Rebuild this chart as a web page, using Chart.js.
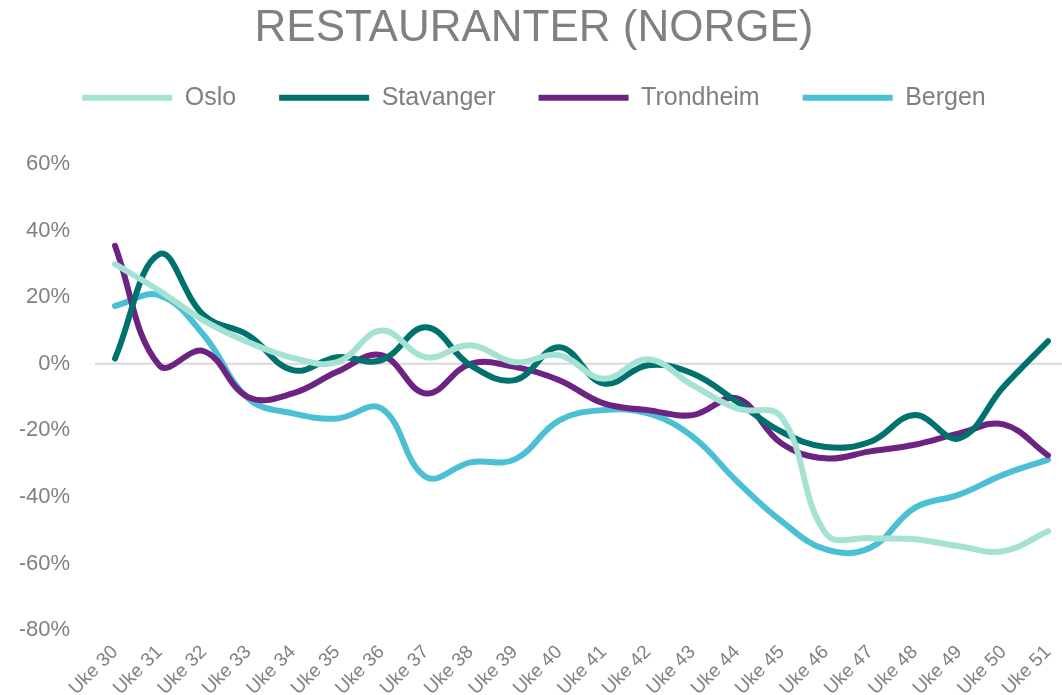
<!DOCTYPE html>
<html>
<head>
<meta charset="utf-8">
<script src="https://cdn.jsdelivr.net/npm/chart.js@4"></script>
<style>
  body { margin: 0; background: #fff; }
  #wrap { width: 1062px; height: 695px; position: relative; }
</style>
</head>
<body>
<div id="wrap"><canvas id="restChart"></canvas></div>
<script>
// weeks and weekly change per city
var weeks = ['Uke 30', 'Uke 31', 'Uke 32', 'Uke 33', 'Uke 34', 'Uke 35', 'Uke 36', 'Uke 37', 'Uke 38', 'Uke 39', 'Uke 40',
             'Uke 41', 'Uke 42', 'Uke 43', 'Uke 44', 'Uke 45', 'Uke 46', 'Uke 47', 'Uke 48', 'Uke 49', 'Uke 50', 'Uke 51'];
var oslo      = [30, 22, 13, 6.5, 1.8, 0.5, 10, 2, 5.6, 0.5, 2.6, -4.5, 1.4, -6.4, -13.4, -16, -51, -52.4, -52.7, -54.8, -56.3, -50.3];
var stavanger = [1.6, 33, 14.6, 8.6, -1.9, 2, 1.1, 11, -0.4, -4.9, 5, -5.9, -0.4, -2.9, -11.4, -20.4, -25, -23.4, -15.4, -22.4, -6.9, 6.8];
var trondheim = [35.5, -0.5, 3.8, -10, -8.9, -2.4, 2.6, -8.9, 0, -0.9, -4.9, -11.9, -13.9, -15.4, -10.4, -23.9, -28.4, -26.3, -24.3, -20.9, -18.2, -27.5];
var bergen    = [17.4, 20.6, 8.6, -10.4, -14.9, -16.4, -13.4, -34, -29.6, -28.7, -17, -13.9, -14.9, -21.9, -35.3, -47.3, -55.8, -55.3, -43.3, -39.3, -33.3, -28.8];
var yTicks = [-80, -60, -40, -20, 0, 20, 40, 60];

var grey = '#808080';
Chart.defaults.font.family = '"Liberation Sans", Arial, sans-serif';
Chart.defaults.color = grey;

// light line at 0%, running a bit past the plot on both sides
var zeroLine = {
    id: 'zeroLine',
    beforeDatasetsDraw: function(chart) {
        var ctx = chart.ctx;
        var y = chart.scales.y.getPixelForValue(0);
        ctx.save();
        ctx.strokeStyle = '#d9d9d9';
        ctx.lineWidth = 2;
        ctx.beginPath();
        ctx.moveTo(chart.chartArea.left - 20, y);
        ctx.lineTo(chart.width, y);
        ctx.stroke();
        ctx.restore();
    }
};

// more room under the legend
var legendGap = {
    id: 'legendGap',
    beforeUpdate: function(chart) {
        var legend = chart.legend;
        if (legend && !legend.gapAdded) {
            var fit = legend.fit;
            legend.fit = function() {
                fit.call(this);
                this.height += 44;
            };
            legend.gapAdded = true;
        }
    }
};

function line(label, data, color) {
    return {
        label: label,
        data: data,
        borderColor: color,
        backgroundColor: color,
        borderWidth: 6,
        borderCapStyle: 'round',
        pointRadius: 0,
        tension: 0.4,
        fill: false
    };
}

var ctx = document.getElementById('restChart').getContext('2d');
var restChart = new Chart(ctx, {
    type: 'line',
    data: {
        labels: weeks,
        datasets: [
            line('Oslo', oslo, '#a6e2d3'),
            line('Stavanger', stavanger, '#00726d'),
            line('Trondheim', trondheim, '#6c2382'),
            line('Bergen', bergen, '#4bbfd4')
        ]
    },
    options: {
        responsive: true,
        maintainAspectRatio: false,
        animation: false,
        layout: {
            padding: { left: 20, right: 14, top: 0, bottom: 0 }
        },
        plugins: {
            title: {
                display: true,
                text: 'RESTAURANTER (NORGE)',
                color: grey,
                font: { size: 44, weight: 'normal', lineHeight: 0.62 },
                padding: { top: 15, bottom: 0 }
            },
            legend: {
                position: 'top',
                labels: {
                    usePointStyle: true,
                    pointStyle: 'line',
                    pointStyleWidth: 90,
                    padding: 43,
                    color: grey,
                    font: { size: 25 }
                }
            },
            tooltip: { enabled: false }
        },
        scales: {
            x: {
                offset: false,
                grid: { display: false, drawTicks: false },
                border: { display: false },
                afterFit: function(axis) {
                    axis.height = 65;
                    axis.paddingLeft = 0;
                    axis.paddingRight = 0;
                },
                ticks: {
                    autoSkip: false,
                    minRotation: 45,
                    maxRotation: 45,
                    padding: 11,
                    color: grey,
                    font: { size: 19 }
                }
            },
            y: {
                min: -80,
                max: 60,
                afterBuildTicks: function(axis) {
                    axis.ticks = yTicks.map(function(v) { return { value: v }; });
                },
                afterFit: function(axis) {
                    axis.width = 95;
                },
                grid: { display: false, drawTicks: false },
                border: { display: false },
                ticks: {
                    padding: 45,
                    color: grey,
                    font: { size: 22 },
                    callback: function(v) { return v + '%'; }
                }
            }
        }
    },
    plugins: [zeroLine, legendGap]
});
</script>
</body>
</html>
